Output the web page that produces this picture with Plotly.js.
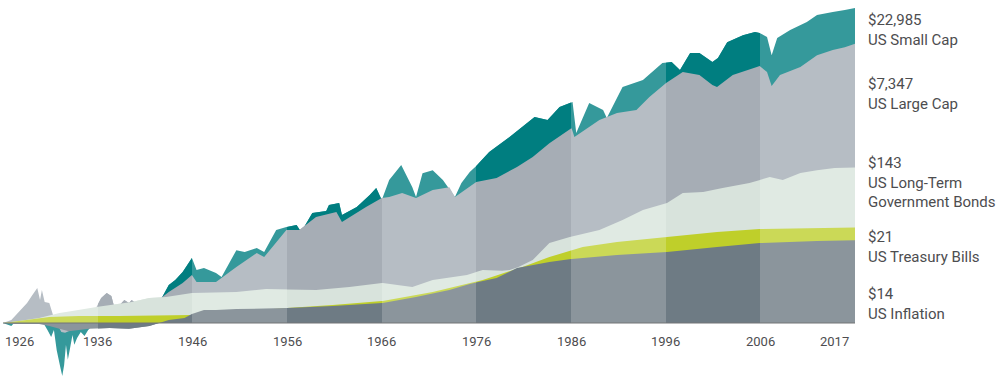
<!DOCTYPE html>
<html><head><meta charset="utf-8">
<script src="https://cdn.plot.ly/plotly-3.0.1.min.js"></script>
<style>html,body{margin:0;padding:0;background:#fff;}#chart{width:1000px;height:383px;}</style>
</head><body><div id="chart"></div>
<script>
// Growth of $1, 1926-2017 (values in dollars)
const smallCapYears = [1926.0,1926.9,1927.7,1928.8,1929.7,1930.3,1930.8,1931.2,1931.5,1931.8,1932.2,1932.4,1932.6,1932.8,1933.0,1933.2,1933.5,1933.7,1934.0,1934.4,1934.8,1935.2,1935.6,1936.1,1936.9,1937.8,1938.3,1939.1,1939.8,1940.7,1941.8,1942.3,1943.2,1943.9,1944.6,1945.4,1945.9,1946.4,1946.9,1947.7,1949.0,1949.6,1951.2,1952.1,1953.4,1954.2,1955.5,1956.6,1957.7,1958.2,1959.4,1960.9,1961.2,1962.3,1962.6,1964.2,1965.6,1966.3,1966.9,1967.7,1969.0,1970.2,1970.6,1971.3,1972.4,1973.5,1974.8,1975.5,1976.4,1977.1,1978.5,1980.7,1983.4,1984.8,1986.1,1987.5,1987.9,1989.3,1990.8,1991.2,1992.9,1995.1,1997.2,1998.2,1999.1,2000.2,2001.2,2002.6,2003.2,2004.2,2005.9,2007.2,2007.7,2008.5,2009.0,2009.6,2011.0,2012.8,2013.9,2015.6,2016.9,2018.0];
const smallCapValues = [1.00,0.91,1.17,1.70,1.51,1.03,0.80,0.64,0.80,0.42,0.24,0.185,0.26,0.50,0.31,0.42,0.68,0.50,0.62,0.75,0.66,0.80,0.91,1.17,2.0,1.42,1.17,1.55,1.45,1.40,1.35,1.40,2.29,3.36,3.94,5.09,6.36,7.95,5.43,5.78,4.93,4.34,10.2,9.6,10.9,9.6,19.4,21.3,22.7,18.2,33.3,35.5,43.1,46.0,31.3,40.4,59.3,74.2,50.6,95.8,154,76.1,55.5,119,131,95.8,55.5,86.9,123,149,234,377,713,647,983,1155,429,1118,889,689,1862,2330,3980,4110,3190,5500,5500,4110,4670,7750,9700,10700,10400,9140,5130,8850,11400,14700,18400,20300,21700,22985];

const largeCapYears = [1926.0,1926.9,1927.7,1928.6,1929.1,1929.7,1930.0,1930.2,1930.5,1931.0,1931.4,1931.8,1932.3,1932.7,1933.4,1934.2,1935.1,1935.7,1936.1,1936.6,1937.2,1937.7,1938.1,1938.5,1939.1,1939.6,1939.9,1940.7,1941.6,1942.3,1943.2,1943.9,1945.4,1946.4,1946.9,1949.0,1951.2,1953.4,1954.2,1956.6,1958.0,1959.8,1962.0,1962.6,1965.2,1966.9,1967.7,1969.1,1970.6,1972.4,1974.2,1974.8,1977.1,1979.3,1981.5,1983.2,1985.0,1987.4,1987.7,1990.4,1992.3,1994.4,1995.8,1997.6,1999.4,2001.2,2002.6,2003.1,2004.8,2007.4,2007.7,2008.5,2009.0,2009.9,2012.1,2013.9,2015.6,2016.9,2018.0];
const largeCapValues = [1.0,1.10,1.42,1.89,2.37,3.05,2.08,2.86,1.95,1.89,1.29,1.0,0.75,0.73,0.80,0.85,0.91,1.17,1.67,2.22,2.60,2.37,1.51,1.72,2.08,1.89,2.08,1.72,1.61,1.72,2.29,2.69,3.58,4.62,3.70,3.70,5.96,9.33,8.19,19.4,19.4,29.4,34.5,25.1,40.4,53.8,55.5,63.0,53.8,69.6,76.1,55.5,89.6,102,145,199,310,500,376,647,811,889,1350,2110,3000,2720,1980,1860,2720,3510,3630,3000,1920,2720,3510,5130,6020,6620,7347];

const bondYears = [1926.0,1927.7,1929.9,1932.1,1932.8,1936.1,1939.9,1941.8,1943.6,1946.4,1951.2,1954.4,1959.8,1963.4,1967.0,1970.2,1972.4,1976.1,1977.8,1979.9,1980.7,1981.6,1983.2,1985.0,1987.2,1990.4,1992.9,1995.1,1997.7,1999.4,2001.6,2003.7,2006.6,2008.8,2010.2,2012.1,2013.9,2015.8,2018.0];
const bondValues = [1.0,1.07,1.17,1.38,1.42,1.67,1.95,2.22,2.29,2.60,2.69,2.96,2.86,3.15,3.58,3.15,3.94,4.62,5.43,5.3,5.4,5.9,7.45,12.8,15.5,19.4,26.7,36.6,46,63,65,74,87,105,95.8,120,131,140,143];

const billYears = [1926.0,1927.7,1931.0,1934.2,1938.5,1946.4,1951.2,1956.6,1961.6,1967.0,1972.4,1974.2,1977.8,1982.1,1985.0,1988.6,1992.3,1997.7,2003.1,2007.7,2018.0];
const billValues = [1.0,1.07,1.21,1.25,1.25,1.29,1.42,1.61,1.77,2.02,2.69,3.05,3.94,5.96,8.19,11.3,13.2,15.5,18.2,20.0,21];

const inflationYears = [1926.0,1927.2,1929.9,1931.0,1932.1,1933.1,1935.3,1937.5,1939.6,1941.8,1943.9,1945.6,1946.4,1947.7,1949.0,1951.2,1956.6,1961.6,1967.0,1970.6,1974.2,1976.4,1979.3,1981.5,1985.0,1987.4,1992.3,1997.7,2003.1,2007.7,2013.9,2018.0];
const inflationValues = [1.0,0.97,0.97,0.91,0.83,0.77,0.83,0.85,0.83,0.91,1.10,1.17,1.33,1.51,1.51,1.56,1.61,1.72,1.89,2.29,2.86,3.47,4.20,5.78,7.00,7.69,8.74,9.62,11.3,12.8,13.7,14];

const seriesNames = ['US Small Cap','US Large Cap','US Long-Term<br>Government Bonds','US Treasury Bills','US Inflation'];
const endValueLabels = ['$22,985','$7,347','$143','$21','$14'];
const decadeYears = [1926,1936,1946,1956,1966,1976,1986,1996,2006];
const decadeLabels = ['1926','1936','1946','1956','1966','1976','1986','1996','2006','2017'];

// ---- styling / layout ----
const lightColors = ['#35999b','#b6bdc4','#e0eae3','#cbd957','#8b959c'];
const darkColors  = ['#007e80','#a6adb5','#d8e3dc','#bfcf2a','#6e7b84'];
const series = [[smallCapYears,smallCapValues],[largeCapYears,largeCapValues],[bondYears,bondValues],[billYears,billValues],[inflationYears,inflationValues]];
const dataStart = 1926, dataEnd = 2018, bandEnd = 2016;
const ML = 3, MR = 145, W = 1000 - ML - MR;
const FONT = "Roboto, 'Liberation Sans Narrow', sans-serif";
const TXT = '#4d4d4f';

const traces = [];
function addSeries(xaxis, colors){
  series.forEach((s,i)=>{
    traces.push({type:'scatter', mode:'none', x:s[0], y:s[1].map(v=>Math.log10(v)),
      xaxis:xaxis, yaxis:'y', fill:'tozeroy', fillcolor:colors[i],
      hoverinfo:'skip', showlegend:false});
  });
}
addSeries('x', lightColors);

const layout = {
  width:1000, height:383, margin:{l:ML,r:MR,t:0,b:0},
  paper_bgcolor:'#ffffff', plot_bgcolor:'rgba(0,0,0,0)', showlegend:false,
  xaxis:{range:[dataStart,dataEnd], domain:[0,1], visible:false, fixedrange:true},
  xaxis2:{range:[dataStart,bandEnd], overlaying:'x', anchor:'y', visible:false, fixedrange:true},
  yaxis:{range:[-0.831,4.4737], domain:[0,1], anchor:'x', visible:false, fixedrange:true},
  shapes:[{type:'line', xref:'paper', x0:0, x1:1, yref:'y', y0:0, y1:0, layer:'above',
           line:{color:'#727477', width:1}}],
  annotations:[]
};

// dark decade bands: sub-plots whose domain covers one band, sharing the y axis
let axN = 3;
decadeYears.forEach((d,i)=>{
  if(i % 2 !== 1) return;
  // snap the band edges to whole pixels so the clip edges are crisp
  const p0 = Math.round((d - dataStart)/(bandEnd - dataStart)*W);
  const p1 = Math.round(Math.min(1, (d + 10 - dataStart)/(bandEnd - dataStart))*W);
  const f0 = p0/W, f1 = p1/W;
  const span = dataEnd - dataStart;
  layout['xaxis'+axN] = {domain:[f0,f1], range:[dataStart+f0*span, dataStart+f1*span], anchor:'y', visible:false, fixedrange:true};
  addSeries('x'+axN, darkColors);
  axN++;
});

// year labels
decadeLabels.forEach((t,i)=>{
  const last = i === decadeLabels.length-1;
  layout.annotations.push({text:t, xref:'x2', x: last ? bandEnd : decadeYears[i],
    xanchor: i===0 ? 'left' : (last ? 'right' : 'center'), xshift: last ? -4 : 0,
    yref:'paper', y:0.1084, yanchor:'middle', showarrow:false,
    font:{family:FONT, size:13, color:TXT}});
});

// series labels on the right
const labelCenters = [29.5, 93.5, 182.5, 247, 304];
seriesNames.forEach((n,i)=>{
  layout.annotations.push({text:endValueLabels[i]+'<br>'+n, xref:'paper', x:(866-ML)/W,
    xanchor:'left', align:'left', yref:'paper', y:1-labelCenters[i]/383, yanchor:'middle',
    showarrow:false, font:{family:FONT, size:15, color:TXT}});
});

Plotly.newPlot('chart', traces, layout, {staticPlot:true, displayModeBar:false});
</script>
</body></html>
